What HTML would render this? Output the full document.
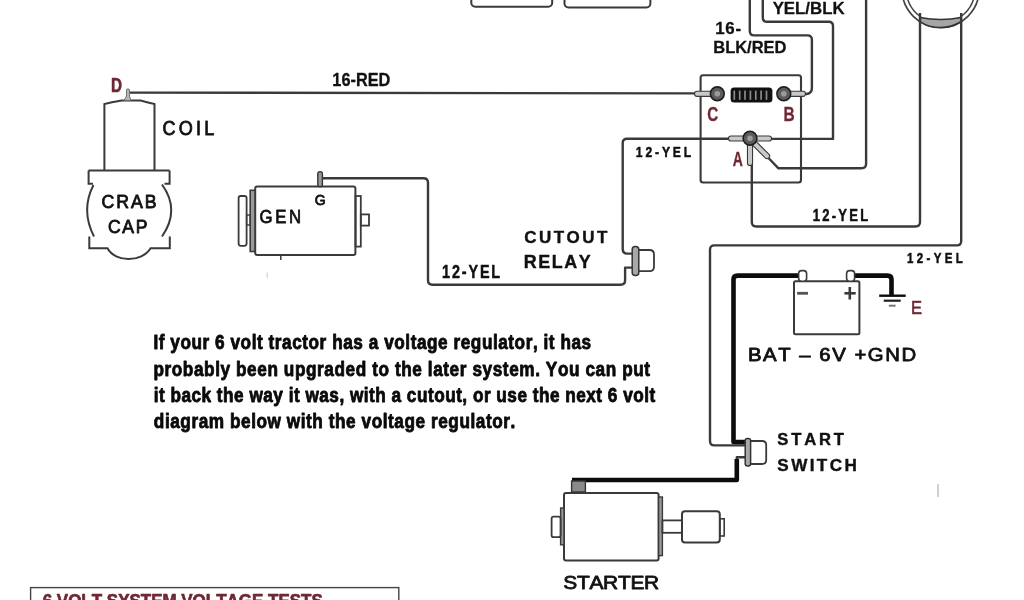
<!DOCTYPE html>
<html><head><meta charset="utf-8"><title>6 Volt Tractor Wiring Diagram</title>
<style>
html,body{margin:0;padding:0;background:#fff;}
body{width:1024px;height:600px;overflow:hidden;}
svg{display:block;filter:blur(0.35px);}
svg text{font-family:"Liberation Sans", sans-serif;font-kerning:none;}
</style></head><body>
<svg width="1024" height="600" viewBox="0 0 1024 600">
<rect width="1024" height="600" fill="#fff"/>
<rect x="471.3" y="-20" width="80.9" height="26.8" rx="4" fill="none" stroke="#3a3a3a" stroke-width="2"/>
<rect x="564.5" y="-20" width="85.9" height="27.4" rx="4" fill="none" stroke="#3a3a3a" stroke-width="2"/>
<circle cx="940.6" cy="-11" r="38.6" fill="none" stroke="#444" stroke-width="1.7"/>
<circle cx="940.6" cy="-11" r="34.4" fill="none" stroke="#444" stroke-width="1.5"/>
<path d="M920,17.5 Q940.6,21.5 961.2,17.5 L961.2,21.5 Q951.5,27.6 940.6,27.6 Q929,27.6 920,21.5 Z" fill="#a5a5a5" stroke="#333" stroke-width="1.5"/>
<path d="M129.5,92.6 L697,93.4" fill="none" stroke="#3a3a3a" stroke-width="2.4" stroke-linejoin="round"/>
<path d="M749.8,-2 V31 Q749.8,35.4 754.2,35.4 H807.5 Q811.9,35.4 811.9,39.8 V88 Q811.9,94 805.9,94 H801" fill="none" stroke="#3a3a3a" stroke-width="2.4" stroke-linejoin="round"/>
<path d="M762.8,-2 V17.5 Q762.8,21.8 767.1,21.8 H828.7 Q833,21.8 833,26.1 V138.9 H768" fill="none" stroke="#3a3a3a" stroke-width="2.4" stroke-linejoin="round"/>
<path d="M866.1,-2 V163.8 Q866.1,168.3 861.6,168.3 H778.5 L768,157.5" fill="none" stroke="#3a3a3a" stroke-width="2.4" stroke-linejoin="round"/>
<path d="M920,13 V222 Q920,226.5 915.5,226.5 H756.3 Q751.8,226.5 751.8,222 V164" fill="none" stroke="#3a3a3a" stroke-width="2.4" stroke-linejoin="round"/>
<path d="M961.2,13 V241 Q961.2,245.4 956.8,245.4 H714.4 Q710,245.4 710,249.8 V441 Q710,445.4 714.4,445.4 H746" fill="none" stroke="#3a3a3a" stroke-width="2.4" stroke-linejoin="round"/>
<path d="M731,138.7 H627 Q622.7,138.7 622.7,143 V249 Q622.7,253.6 627.3,253.6 H633" fill="none" stroke="#3a3a3a" stroke-width="2.4" stroke-linejoin="round"/>
<path d="M321,178.2 H423.5 Q428,178.2 428,182.7 V280.3 Q428,284.8 432.5,284.8 H620.6 Q625.1,284.8 625.1,280.3 V267.6 H633" fill="none" stroke="#3a3a3a" stroke-width="2.4" stroke-linejoin="round"/>
<path d="M746,457.2 H736.8 V466" fill="none" stroke="#3a3a3a" stroke-width="2.4" stroke-linejoin="round"/>
<path d="M799,275.6 H737.5 Q733.5,275.6 733.5,279.6 V442 H746" fill="none" stroke="#0c0c0c" stroke-width="4.6" stroke-linejoin="round"/>
<path d="M854,275.6 H887.5 Q891.5,275.6 891.5,279.6 V295" fill="none" stroke="#0c0c0c" stroke-width="4.6" stroke-linejoin="round"/>
<path d="M736.8,459 V480 H572" fill="none" stroke="#0c0c0c" stroke-width="4.6" stroke-linejoin="round"/>
<rect x="700.6" y="75.3" width="100.4" height="107.2" rx="2.5" fill="none" stroke="#3a3a3a" stroke-width="2.1"/>
<rect x="730.6" y="87.4" width="41.8" height="15.2" rx="3.5" fill="#111"/>
<line x1="734.3" y1="90.6" x2="734.3" y2="99.8" stroke="#8c8c8c" stroke-width="1.7"/>
<line x1="739.7" y1="90.6" x2="739.7" y2="99.8" stroke="#8c8c8c" stroke-width="1.7"/>
<line x1="745.0" y1="90.6" x2="745.0" y2="99.8" stroke="#8c8c8c" stroke-width="1.7"/>
<line x1="750.4" y1="90.6" x2="750.4" y2="99.8" stroke="#8c8c8c" stroke-width="1.7"/>
<line x1="755.8" y1="90.6" x2="755.8" y2="99.8" stroke="#8c8c8c" stroke-width="1.7"/>
<line x1="761.1" y1="90.6" x2="761.1" y2="99.8" stroke="#8c8c8c" stroke-width="1.7"/>
<line x1="766.5" y1="90.6" x2="766.5" y2="99.8" stroke="#8c8c8c" stroke-width="1.7"/>
<path d="M697,93.8 L712,93.8" stroke="#3a3a3a" stroke-width="6.199999999999999" stroke-linecap="round"/><path d="M697,93.8 L712,93.8" stroke="#c9c9c9" stroke-width="3.9999999999999996" stroke-linecap="round"/>
<path d="M789,93.8 L803,93.8" stroke="#3a3a3a" stroke-width="6.199999999999999" stroke-linecap="round"/><path d="M789,93.8 L803,93.8" stroke="#c9c9c9" stroke-width="3.9999999999999996" stroke-linecap="round"/>
<path d="M731,138.5 L745,138.5" stroke="#3a3a3a" stroke-width="6.199999999999999" stroke-linecap="round"/><path d="M731,138.5 L745,138.5" stroke="#c9c9c9" stroke-width="3.9999999999999996" stroke-linecap="round"/>
<path d="M755,138.5 L769,138.5" stroke="#3a3a3a" stroke-width="6.199999999999999" stroke-linecap="round"/><path d="M755,138.5 L769,138.5" stroke="#c9c9c9" stroke-width="3.9999999999999996" stroke-linecap="round"/>
<path d="M750,143 L750,163" stroke="#3a3a3a" stroke-width="6.199999999999999" stroke-linecap="round"/><path d="M750,143 L750,163" stroke="#c9c9c9" stroke-width="3.9999999999999996" stroke-linecap="round"/>
<path d="M754,143 L767,156" stroke="#3a3a3a" stroke-width="6.199999999999999" stroke-linecap="round"/><path d="M754,143 L767,156" stroke="#c9c9c9" stroke-width="3.9999999999999996" stroke-linecap="round"/>
<circle cx="717.3" cy="93.8" r="6.9" fill="#5c5c5c" stroke="#1e1e1e" stroke-width="1.6"/>
<circle cx="717.3" cy="93.8" r="2.8" fill="#9a9a9a"/>
<circle cx="783.8" cy="93.8" r="6.9" fill="#5c5c5c" stroke="#1e1e1e" stroke-width="1.6"/>
<circle cx="783.8" cy="93.8" r="2.8" fill="#9a9a9a"/>
<circle cx="750" cy="138.2" r="6.9" fill="#5c5c5c" stroke="#1e1e1e" stroke-width="1.6"/>
<circle cx="750" cy="138.2" r="2.8" fill="#9a9a9a"/>
<path d="M104.4,170 V104 L112,102.3 L121.7,100.6 H140.5 L148,102.5 L154.5,104 V170" fill="none" stroke="#3a3a3a" stroke-width="2"/>
<path d="M124,100.5 L126.5,96 V89.5 Q128,88 129.5,89.5 V96 L131,100.5 Z" fill="#b5b5b5" stroke="#666" stroke-width="0.9"/>
<path d="M88.5,170.6 H169.6" fill="none" stroke="#3a3a3a" stroke-width="2"/>
<path d="M88.6,170.6 V183.8 H93" fill="none" stroke="#3a3a3a" stroke-width="2"/>
<path d="M93.5,185 Q80.5,210 94,236.5" fill="none" stroke="#3a3a3a" stroke-width="2"/>
<path d="M89.3,236.5 V248.3 H107.5 C115,262.5 142,262.5 150.6,248.3 H169.8 V236.5" fill="none" stroke="#3a3a3a" stroke-width="2"/>
<path d="M162,184.5 Q180.5,210 162,236.5" fill="none" stroke="#3a3a3a" stroke-width="2"/>
<path d="M169.6,170.6 V183.8 H164.5" fill="none" stroke="#3a3a3a" stroke-width="2"/>
<rect x="255.2" y="186.4" width="100.2" height="68.6" rx="2" fill="none" stroke="#3a3a3a" stroke-width="2"/>
<rect x="250.2" y="190.3" width="4.8" height="61.2" fill="#9a9a9a" stroke="#3a3a3a" stroke-width="1.6"/>
<rect x="238.6" y="196" width="8" height="49.8" rx="2.2" fill="none" stroke="#3a3a3a" stroke-width="1.8"/>
<rect x="246.6" y="215" width="3.6" height="10" fill="none" stroke="#3a3a3a" stroke-width="1.4"/>
<rect x="355.6" y="196" width="5.2" height="50.6" fill="none" stroke="#3a3a3a" stroke-width="1.8"/>
<rect x="360.8" y="214.4" width="8.2" height="11.2" fill="none" stroke="#3a3a3a" stroke-width="1.8"/>
<rect x="317.8" y="171.6" width="4.6" height="15" rx="2.2" fill="#9a9a9a" stroke="#333" stroke-width="1.4"/>
<line x1="280.8" y1="255" x2="280.8" y2="260" stroke="#3a3a3a" stroke-width="1.5"/>
<path d="M639,250 H649.5 Q654,250 654,254.5 V266.8 Q654,271.2 649.5,271.2 H639" fill="#fff" stroke="#3a3a3a" stroke-width="1.8"/>
<rect x="632.2" y="246.6" width="6.6" height="29" rx="3" fill="#a8a8a8" stroke="#333" stroke-width="1.5"/>
<rect x="794" y="281.2" width="65.4" height="53" rx="1.5" fill="none" stroke="#3a3a3a" stroke-width="2"/>
<rect x="798.6" y="270.6" width="8" height="10.6" rx="3" fill="#fff" stroke="#3a3a3a" stroke-width="1.6"/>
<rect x="846.6" y="270.6" width="8" height="10.6" rx="3" fill="#fff" stroke="#3a3a3a" stroke-width="1.6"/>
<line x1="797.1" y1="293.3" x2="808" y2="293.3" stroke="#555" stroke-width="2.8"/>
<line x1="844.4" y1="293.3" x2="855.7" y2="293.3" stroke="#3a3a3a" stroke-width="2.6"/>
<line x1="849.8" y1="287" x2="849.8" y2="299.5" stroke="#3a3a3a" stroke-width="2.6"/>
<line x1="879.2" y1="295.7" x2="905.7" y2="295.7" stroke="#0c0c0c" stroke-width="2.4"/>
<line x1="883.7" y1="300.7" x2="900.7" y2="300.7" stroke="#222" stroke-width="2.2"/>
<line x1="888.8" y1="305.7" x2="895.6" y2="305.7" stroke="#777" stroke-width="2"/>
<path d="M750.5,441 H762 Q766.2,441 766.2,445 V460 Q766.2,464 762,464 H750.5" fill="#fff" stroke="#3a3a3a" stroke-width="1.8"/>
<rect x="745.2" y="438.4" width="5.4" height="27.6" rx="2.2" fill="#a8a8a8" stroke="#333" stroke-width="1.5"/>
<rect x="571.6" y="481" width="13.8" height="11" fill="#8a8a8a" stroke="#333" stroke-width="1.4"/>
<rect x="564" y="493" width="94.6" height="67.4" rx="2" fill="none" stroke="#3a3a3a" stroke-width="2"/>
<rect x="560.6" y="508" width="3.4" height="36.8" fill="#999" stroke="#3a3a3a" stroke-width="1.4"/>
<rect x="551.6" y="516.6" width="9" height="20.6" rx="2" fill="none" stroke="#3a3a3a" stroke-width="1.8"/>
<rect x="658.6" y="497" width="3.8" height="58.6" fill="#999" stroke="#3a3a3a" stroke-width="1.4"/>
<rect x="662.4" y="520.4" width="19.6" height="12.4" fill="none" stroke="#3a3a3a" stroke-width="1.8"/>
<rect x="682" y="511.2" width="37.8" height="31.4" rx="3" fill="#fff" stroke="#3a3a3a" stroke-width="2"/>
<rect x="719.8" y="518.8" width="4.4" height="17.2" fill="none" stroke="#3a3a3a" stroke-width="1.6"/>
<line x1="938" y1="484" x2="938" y2="497" stroke="#b8b8b8" stroke-width="1.3"/>
<line x1="267.2" y1="272.5" x2="267.2" y2="278" stroke="#c8c8c8" stroke-width="1"/>
<rect x="30.6" y="587.6" width="368.2" height="40" fill="none" stroke="#444" stroke-width="1.4"/>
<text transform="translate(111.02,92.30) scale(0.7812,1)" font-size="19.48" font-weight="bold" fill="#6e2833"  stroke="#6e2833" stroke-width="0.6" stroke-linejoin="round">D</text>
<text transform="translate(332.31,86.15) scale(0.9278,1)" font-size="17.59" font-weight="bold" fill="#111"  stroke="#111" stroke-width="0.3" stroke-linejoin="round">16-RED</text>
<text transform="translate(162.44,135.20) scale(0.9000,1)" font-size="20.06" font-weight="normal" letter-spacing="3.578" fill="#111"  stroke="#111" stroke-width="0.8" stroke-linejoin="round">COIL</text>
<text transform="translate(101.49,208.00) scale(0.9700,1)" font-size="18.31" font-weight="normal" letter-spacing="1.961" fill="#111"  stroke="#111" stroke-width="0.8" stroke-linejoin="round">CRAB</text>
<text transform="translate(107.99,232.60) scale(0.9700,1)" font-size="18.17" font-weight="normal" letter-spacing="1.707" fill="#111"  stroke="#111" stroke-width="0.8" stroke-linejoin="round">CAP</text>
<text transform="translate(259.51,222.80) scale(0.8800,1)" font-size="19.04" font-weight="normal" letter-spacing="2.952" fill="#111"  stroke="#111" stroke-width="0.8" stroke-linejoin="round">GEN</text>
<text transform="translate(314.70,205.30) scale(1.0091,1)" font-size="13.95" font-weight="normal" fill="#111"  stroke="#111" stroke-width="0.8" stroke-linejoin="round">G</text>
<text transform="translate(442.09,277.95) scale(0.8000,1)" font-size="18.02" font-weight="bold" letter-spacing="2.317" fill="#111"  stroke="#111" stroke-width="0.5" stroke-linejoin="round">12-YEL</text>
<text transform="translate(524.20,242.70) scale(1.0000,1)" font-size="17.01" font-weight="bold" letter-spacing="2.487" fill="#111"  stroke="#111" stroke-width="0.4" stroke-linejoin="round">CUTOUT</text>
<text transform="translate(523.70,267.70) scale(1.0000,1)" font-size="17.88" font-weight="bold" letter-spacing="1.598" fill="#111"  stroke="#111" stroke-width="0.4" stroke-linejoin="round">RELAY</text>
<text transform="translate(635.84,156.75) scale(0.8000,1)" font-size="15.12" font-weight="bold" letter-spacing="3.584" fill="#111"  stroke="#111" stroke-width="0.5" stroke-linejoin="round">12-YEL</text>
<text x="715.19" y="34.15" font-size="16.86" font-weight="bold" letter-spacing="0.734" fill="#111"  stroke="#111" stroke-width="0.3" stroke-linejoin="round">16-</text>
<text transform="translate(713.24,52.75) scale(0.9782,1)" font-size="16.86" font-weight="bold" fill="#111"  stroke="#111" stroke-width="0.3" stroke-linejoin="round">BLK/RED</text>
<text transform="translate(772.66,14.15) scale(0.9806,1)" font-size="17.15" font-weight="bold" fill="#111"  stroke="#111" stroke-width="0.3" stroke-linejoin="round">YEL/BLK</text>
<text transform="translate(707.29,120.75) scale(0.7826,1)" font-size="19.48" font-weight="bold" fill="#6e2833"  stroke="#6e2833" stroke-width="0.3" stroke-linejoin="round">C</text>
<text transform="translate(783.58,120.75) scale(0.7965,1)" font-size="19.48" font-weight="bold" fill="#6e2833"  stroke="#6e2833" stroke-width="0.3" stroke-linejoin="round">B</text>
<text transform="translate(732.66,165.95) scale(0.7079,1)" font-size="19.77" font-weight="bold" fill="#6e2833"  stroke="#6e2833" stroke-width="0.3" stroke-linejoin="round">A</text>
<text transform="translate(812.68,220.95) scale(0.8000,1)" font-size="16.28" font-weight="bold" letter-spacing="2.842" fill="#111"  stroke="#111" stroke-width="0.5" stroke-linejoin="round">12-YEL</text>
<text transform="translate(906.97,262.85) scale(0.8000,1)" font-size="14.39" font-weight="bold" letter-spacing="4.213" fill="#111"  stroke="#111" stroke-width="0.5" stroke-linejoin="round">12-YEL</text>
<text transform="translate(910.93,314.10) scale(0.9304,1)" font-size="17.73" font-weight="normal" fill="#6e2833"  stroke="#6e2833" stroke-width="0.6" stroke-linejoin="round">E</text>
<text transform="translate(747.98,361.40) scale(1.1200,1)" font-size="18.17" font-weight="normal" letter-spacing="1.362" fill="#111"  stroke="#111" stroke-width="0.8" stroke-linejoin="round">BAT – 6V +GND</text>
<text transform="translate(777.33,445.30) scale(1.0500,1)" font-size="15.84" font-weight="bold" letter-spacing="2.665" fill="#111"  stroke="#111" stroke-width="0.4" stroke-linejoin="round">START</text>
<text transform="translate(777.32,470.90) scale(1.0500,1)" font-size="16.28" font-weight="bold" letter-spacing="2.307" fill="#111"  stroke="#111" stroke-width="0.4" stroke-linejoin="round">SWITCH</text>
<text transform="translate(563.29,588.70) scale(1.1000,1)" font-size="19.04" font-weight="normal" letter-spacing="-0.274" fill="#111"  stroke="#111" stroke-width="0.8" stroke-linejoin="round">STARTER</text>
<text transform="translate(153.41,349.27) scale(0.8600,1)" font-size="20.00" font-weight="bold" letter-spacing="0.635" fill="#0a0a0a"  stroke="#0a0a0a" stroke-width="0.85" stroke-linejoin="round">If your 6 volt tractor has a voltage regulator, it has</text>
<text transform="translate(153.43,375.88) scale(0.8600,1)" font-size="20.00" font-weight="bold" letter-spacing="0.678" fill="#0a0a0a"  stroke="#0a0a0a" stroke-width="0.85" stroke-linejoin="round">probably been upgraded to the later system. You can put</text>
<text transform="translate(153.66,402.27) scale(0.8600,1)" font-size="20.00" font-weight="bold" letter-spacing="0.576" fill="#0a0a0a"  stroke="#0a0a0a" stroke-width="0.85" stroke-linejoin="round">it back the way it was, with a cutout, or use the next 6 volt</text>
<text transform="translate(153.86,428.18) scale(0.8600,1)" font-size="20.00" font-weight="bold" letter-spacing="0.651" fill="#0a0a0a"  stroke="#0a0a0a" stroke-width="0.85" stroke-linejoin="round">diagram below with the voltage regulator.</text>
<text transform="translate(42.70,607.25) scale(0.9203,1)" font-size="18.46" font-weight="bold" fill="#6e2833"  stroke="#6e2833" stroke-width="0.7" stroke-linejoin="round">6 VOLT SYSTEM VOLTAGE TESTS</text>
</svg>
</body></html>
